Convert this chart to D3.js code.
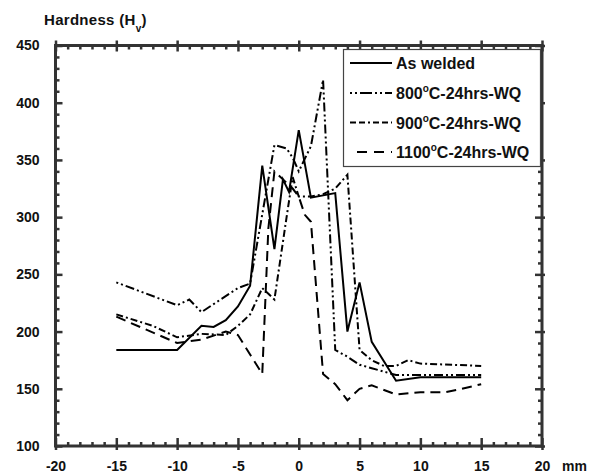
<!DOCTYPE html>
<html>
<head>
<meta charset="utf-8">
<script src="https://cdn.jsdelivr.net/npm/d3@7"></script>
<style>
  html, body { margin: 0; padding: 0; background: #fff; }
  svg text { font-family: "Liberation Sans", Arial, sans-serif; font-weight: bold; fill: #111; }
</style>
</head>
<body>
<svg id="chart" width="592" height="475"></svg>
<script>
// ---- data ----
const xTicks = [-20, -15, -10, -5, 0, 5, 10, 15, 20];
const yTicks = [100, 150, 200, 250, 300, 350, 400, 450];

const seriesNames = ["As welded", "800", "900", "1100"];

const xAsWelded = [-15, -10, -8, -7, -6, -5, -4, -3, -2, -1.3, -0.8, 0, 1, 3, 4, 5, 6, 8, 10, 15];
const yAsWelded = [184, 184, 205, 204, 210, 222, 240, 345, 272, 333, 322, 376, 317, 321, 200, 243, 191, 157, 160, 160];

const x800 = [-15, -10, -9, -8, -5, -4, -2, -1, -0.5, 0, 1, 2, 3, 4, 5, 6, 7, 8, 10, 15];
const y800 = [243, 223, 228, 217, 238, 242, 363, 360, 352, 340, 362, 420, 184, 178, 171, 168, 165, 162, 162, 162];

const x900 = [-15, -12, -10, -8, -6, -5, -4, -3, -2, -1, -0.5, 0, 1, 2, 3, 4, 5, 6, 7, 8, 9, 10, 15];
const y900 = [215, 205, 195, 198, 197, 205, 215, 238, 228, 300, 335, 318, 318, 320, 325, 337, 184, 175, 170, 170, 175, 172, 170];

const x1100 = [-15, -10, -8, -6, -5, -4, -3, -2.5, -2, -1, -0.5, 0, 0.5, 1, 2, 3, 4, 5, 6, 8, 10, 12, 13, 15];
const y1100 = [213, 190, 193, 200, 197, 180, 163, 290, 340, 330, 325, 318, 302, 296, 163, 154, 140, 150, 153, 145, 147, 147, 149, 154];

// ---- layout ----
const svg = d3.select("#chart");
const X0 = 55.5, X1 = 542, Y0 = 446, Y1 = 45.5;
const x = d3.scaleLinear().domain([-20, 20]).range([X0, X1]);
const y = d3.scaleLinear().domain([100, 450]).range([Y0, Y1]);

const xMinor = d3.range(-20, 21, 1).filter(v => v % 5 !== 0);
const yMinor = d3.range(100, 451, 10).filter(v => v % 50 !== 0);

const axisColor = "#333";
const FONT = "Liberation Sans, Arial, sans-serif";
const fmt = d => String(d);

function styleAxis(g) {
  g.select(".domain").remove();
  g.selectAll(".tick line").attr("stroke", axisColor).attr("stroke-width", 2.5);
}
function styleLabels(g) {
  g.selectAll("text").attr("font-size", 14).attr("fill", "#111")
    .attr("font-family", FONT).attr("font-weight", "bold");
}

// bottom axis: labels + outward stub
svg.append("g").attr("transform", `translate(0,${Y0})`)
  .call(d3.axisBottom(x).tickValues(xTicks).tickSize(4).tickPadding(11).tickFormat(fmt))
  .call(styleAxis).call(styleLabels);
svg.append("g").attr("transform", `translate(0,${Y0})`)
  .call(d3.axisBottom(x).tickValues(xTicks).tickSize(-8).tickFormat(""))
  .call(styleAxis);
svg.append("g").attr("transform", `translate(0,${Y0})`)
  .call(d3.axisBottom(x).tickValues(xMinor).tickSize(-4).tickFormat(""))
  .call(styleAxis);
// top axis
svg.append("g").attr("transform", `translate(0,${Y1})`)
  .call(d3.axisTop(x).tickValues(xTicks).tickSize(5).tickFormat(""))
  .call(styleAxis);
svg.append("g").attr("transform", `translate(0,${Y1})`)
  .call(d3.axisTop(x).tickValues(xTicks).tickSize(-6).tickFormat(""))
  .call(styleAxis);
svg.append("g").attr("transform", `translate(0,${Y1})`)
  .call(d3.axisTop(x).tickValues(xMinor).tickSize(-4).tickFormat(""))
  .call(styleAxis);
// left axis
svg.append("g").attr("transform", `translate(${X0},0)`)
  .call(d3.axisLeft(y).tickValues(yTicks).tickSize(0).tickPadding(16).tickFormat(fmt))
  .call(styleAxis).call(styleLabels);
svg.append("g").attr("transform", `translate(${X0},0)`)
  .call(d3.axisLeft(y).tickValues(yTicks).tickSize(-7).tickFormat(""))
  .call(styleAxis);
svg.append("g").attr("transform", `translate(${X0},0)`)
  .call(d3.axisLeft(y).tickValues(yMinor).tickSize(-4).tickFormat(""))
  .call(styleAxis);
// right axis
svg.append("g").attr("transform", `translate(${X1},0)`)
  .call(d3.axisRight(y).tickValues(yTicks).tickSize(3).tickFormat(""))
  .call(styleAxis);
svg.append("g").attr("transform", `translate(${X1},0)`)
  .call(d3.axisRight(y).tickValues(yTicks).tickSize(-7).tickFormat(""))
  .call(styleAxis);
svg.append("g").attr("transform", `translate(${X1},0)`)
  .call(d3.axisRight(y).tickValues(yMinor).tickSize(-4).tickFormat(""))
  .call(styleAxis);

// frame
svg.append("rect").attr("x", X0).attr("y", Y1).attr("width", X1 - X0).attr("height", Y0 - Y1)
  .attr("fill", "none").attr("stroke", axisColor).attr("stroke-width", 3);

// axis titles
const title = svg.append("text").attr("x", 44).attr("y", 25).attr("font-size", 15).attr("letter-spacing", 0.3);
title.append("tspan").text("Hardness (H");
title.append("tspan").attr("dy", 7).attr("font-size", 10).text("v");
title.append("tspan").attr("dy", -7).text(")");

svg.append("text").attr("x", 562).attr("y", 471).attr("font-size", 14).text("mm");

// ---- series ----
const styles = [
  { dash: null },
  { dash: "2,3,2,3,9,3" },
  { dash: "7,3,2,3" },
  { dash: "10,6" }
];
const xs = [xAsWelded, x800, x900, x1100];
const ys = [yAsWelded, y800, y900, y1100];

const line = d3.line().x(d => x(d[0])).y(d => y(d[1]));
xs.forEach((xv, i) => {
  const pts = xv.map((v, j) => [v, ys[i][j]]);
  svg.append("path").datum(pts)
    .attr("d", line)
    .attr("fill", "none")
    .attr("stroke", "#000")
    .attr("stroke-width", 2)
    .attr("stroke-linejoin", "miter")
    .attr("stroke-dasharray", styles[i].dash);
});

// ---- legend ----
const lg = svg.append("g");
lg.append("rect").attr("x", 343.5).attr("y", 49.5).attr("width", 197).attr("height", 117)
  .attr("fill", "#fff").attr("stroke", "#444").attr("stroke-width", 1.2);
const legendY = [63, 93, 122.5, 152];
const legendDash = [null, "2,3,2,3,12,3", "6,3,6,3,2,3", "10,7"];
seriesNames.forEach((name, i) => {
  lg.append("line").attr("x1", i === 3 ? 357 : 350).attr("x2", 392)
    .attr("y1", legendY[i]).attr("y2", legendY[i])
    .attr("stroke", "#000").attr("stroke-width", 2)
    .attr("stroke-dasharray", legendDash[i]);
  const t = lg.append("text").attr("x", 396).attr("y", legendY[i] + 6).attr("font-size", 16);
  if (i === 0) {
    t.text(name);
  } else {
    t.append("tspan").text(name);
    t.append("tspan").attr("dy", -7).attr("font-size", 10).text("o");
    t.append("tspan").attr("dy", 7).text("C-24hrs-WQ");
  }
});
</script>
</body>
</html>
